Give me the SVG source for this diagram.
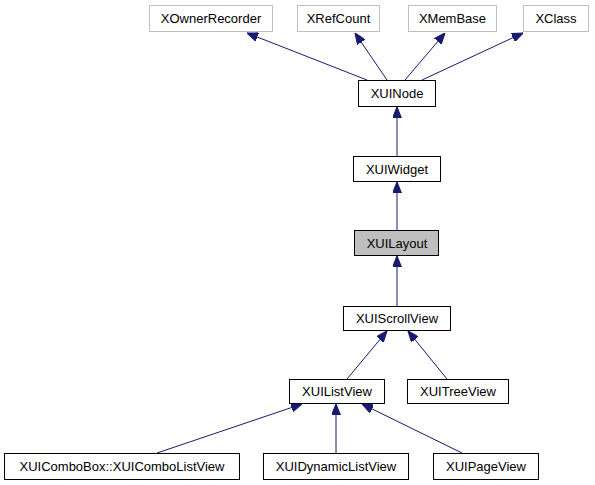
<svg xmlns="http://www.w3.org/2000/svg" width="595" height="485" viewBox="0 0 595 485">
<style>
.n rect{fill:#fff;stroke:#000;stroke-width:1}
.g rect{fill:#fff;stroke:#bfbfbf;stroke-width:1}
.sel rect{fill:#bfbfbf;stroke:#000;stroke-width:1}
text{font-family:"Liberation Sans",Arial,sans-serif;font-size:13px;text-anchor:middle;fill:#000}
.e path{fill:none;stroke:#191970;stroke-width:1;marker-end:url(#ah)}
</style>
<defs>
<marker id="ah" markerUnits="userSpaceOnUse" viewBox="0 0 10 8" refX="10" refY="4" markerWidth="11" markerHeight="9" orient="auto">
<path d="M0,0 L10,4 L0,8 z" fill="#191970" stroke="#191970"/>
</marker>
</defs>
<rect width="595" height="485" fill="#fff"/>
<g id="edges" class="e">
<path d="M367,80 L247,33"/>
<path d="M387,80 L355,33"/>
<path d="M405,80 L445,33"/>
<path d="M422,80 L523,33"/>
<path d="M397,157 L397,107"/>
<path d="M397,230 L397,182"/>
<path d="M397,306 L397,256"/>
<path d="M347,379 L387,331"/>
<path d="M447,379 L408,331"/>
<path d="M157,453 L302,404"/>
<path d="M336,453 L336,404"/>
<path d="M462,453 L362,404"/>
</g>
<g id="XOwnerRecorder" class="g"><rect x="149.5" y="5.5" width="123" height="26"/><text x="211" y="23">XOwnerRecorder</text></g>
<g id="XRefCount" class="g"><rect x="297.5" y="5.5" width="82" height="26"/><text x="338.5" y="23">XRefCount</text></g>
<g id="XMemBase" class="g"><rect x="408.5" y="5.5" width="88" height="26"/><text x="452.5" y="23">XMemBase</text></g>
<g id="XClass" class="g"><rect x="523.5" y="5.5" width="65" height="26"/><text x="556" y="23">XClass</text></g>
<g id="XUINode" class="n"><rect x="358.5" y="80.5" width="77" height="26"/><text x="397" y="98">XUINode</text></g>
<g id="XUIWidget" class="n"><rect x="353.5" y="156.5" width="87" height="25"/><text x="397" y="173.5">XUIWidget</text></g>
<g id="XUILayout" class="sel"><rect x="354.5" y="230.5" width="84" height="25"/><text x="397" y="247.5">XUILayout</text></g>
<g id="XUIScrollView" class="n"><rect x="343.5" y="306.5" width="107" height="24"/><text x="397" y="323">XUIScrollView</text></g>
<g id="XUIListView" class="n"><rect x="289.5" y="379.5" width="95" height="24"/><text x="337" y="396">XUIListView</text></g>
<g id="XUITreeView" class="n"><rect x="407.5" y="379.5" width="101" height="24"/><text x="458" y="396">XUITreeView</text></g>
<g id="XUIComboListView" class="n"><rect x="4.5" y="453.5" width="235" height="26"/><text x="122" y="471">XUIComboBox::XUIComboListView</text></g>
<g id="XUIDynamicListView" class="n"><rect x="263.5" y="453.5" width="145" height="26"/><text x="336" y="471">XUIDynamicListView</text></g>
<g id="XUIPageView" class="n"><rect x="433.5" y="453.5" width="105" height="26"/><text x="486" y="471">XUIPageView</text></g>
</svg>
